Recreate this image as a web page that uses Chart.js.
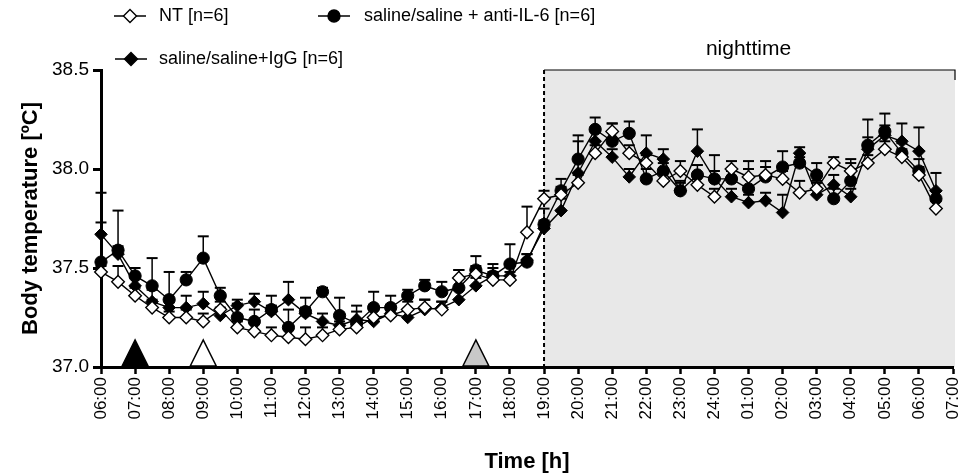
<!DOCTYPE html>
<html><head><meta charset="utf-8">
<script src="https://cdn.jsdelivr.net/npm/chart.js@4.4.1/dist/chart.umd.min.js"></script>
<style>html,body{margin:0;padding:0;background:#fff;}</style>
</head><body>
<canvas id="c" width="967" height="475" style="display:block"></canvas>
<script>
// ---- data ----
const hourLabels = ['06:00','07:00','08:00','09:00','10:00','11:00','12:00','13:00','14:00','15:00','16:00','17:00','18:00','19:00','20:00','21:00','22:00','23:00','24:00','01:00','02:00','03:00','04:00','05:00','06:00','07:00'];
const yTickLabels = ['37.0','37.5','38.0','38.5'];
// one value every 30 min from 06:00 to 06:30 next day
const ntTemp = [37.48,37.43,37.36,37.30,37.25,37.25,37.23,37.29,37.20,37.18,37.16,37.15,37.14,37.16,37.19,37.20,37.25,37.26,37.29,37.30,37.29,37.45,37.47,37.44,37.44,37.68,37.85,37.87,37.93,38.08,38.19,38.08,38.03,37.94,37.99,37.92,37.86,38.00,37.96,37.97,37.95,37.88,37.90,38.03,37.99,38.03,38.10,38.06,37.97,37.80];
const ntErr = [0.03,0.08,0.04,0.04,0.03,0.04,0.04,0.04,0.03,0.04,0.04,0.05,0.06,0.04,0.04,0.04,0.04,0.04,0.04,0.04,0.04,0.04,0.04,0.04,0.04,0.13,0.04,0.04,0.04,0.04,0.04,0.04,0.04,0.04,0.05,0.04,0.04,0.04,0.04,0.04,0.04,0.06,0.04,0.03,0.04,0.04,0.04,0.04,0.04,0.04];
const il6Temp = [37.53,37.59,37.46,37.41,37.34,37.44,37.55,37.36,37.25,37.23,37.29,37.20,37.28,37.38,37.26,37.22,37.30,37.30,37.36,37.41,37.38,37.40,37.49,37.46,37.52,37.53,37.72,37.89,38.05,38.20,38.14,38.18,37.95,37.99,37.89,37.97,37.95,37.95,37.90,37.96,38.01,38.03,37.97,37.85,37.94,38.12,38.19,38.08,37.99,37.85];
const il6Err = [0.20,0.20,0.04,0.14,0.14,0.04,0.11,0.04,0.07,0.06,0.07,0.09,0.07,0.02,0.09,0.09,0.08,0.06,0.03,0.03,0.05,0.09,0.07,0.06,0.10,0.04,0.08,0.06,0.12,0.06,0.09,0.06,0.05,0.04,0.05,0.05,0.12,0.04,0.14,0.08,0.08,0.03,0.06,0.05,0.11,0.13,0.09,0.05,0.06,0.04];
const iggTemp = [37.67,37.57,37.41,37.33,37.30,37.30,37.32,37.26,37.31,37.33,37.28,37.34,37.27,37.23,37.21,37.24,37.23,37.27,37.25,37.29,37.30,37.34,37.41,37.46,37.46,37.54,37.70,37.79,37.98,38.14,38.06,37.96,38.08,38.05,37.89,38.09,37.95,37.86,37.83,37.84,37.78,38.08,37.87,37.92,37.86,38.10,38.17,38.14,38.09,37.89];
const iggErr = [0.21,0.04,0.04,0.06,0.04,0.06,0.06,0.04,0.03,0.04,0.03,0.09,0.03,0.04,0.04,0.04,0.06,0.04,0.04,0.05,0.03,0.05,0.04,0.04,0.05,0.03,0.04,0.06,0.16,0.05,0.04,0.04,0.09,0.05,0.04,0.11,0.04,0.04,0.04,0.04,0.09,0.03,0.06,0.05,0.04,0.06,0.05,0.09,0.12,0.09];
// event markers (half-hour index) and their fill
const eventIndex = [2, 6, 22];
const eventFill = ['#000000', '#ffffff', '#c8c8c8'];
const nightStartIndex = 26; // 19:00
const nightEndIndex = 50;   // 07:00

const FONT = "'Liberation Sans', Arial, sans-serif";
const pts = arr => arr.map((v, i) => ({x: i, y: v}));

const datasets = [
  {label:'NT [n=6]', data: pts(ntTemp), err: ntErr, shape:'diamond', fill:'#ffffff',
   pointStyle:'rectRot', pointRadius:6.3, pointBackgroundColor:'#fff', pointBorderColor:'#000', pointBorderWidth:1.4},
  {label:'saline/saline+IgG [n=6]', data: pts(iggTemp), err: iggErr, shape:'diamond', fill:'#000000',
   pointStyle:'rectRot', pointRadius:6.3, pointBackgroundColor:'#000', pointBorderColor:'#000', pointBorderWidth:1},
  {label:'saline/saline + anti-IL-6 [n=6]', data: pts(il6Temp), err: il6Err, shape:'circle', fill:'#000000',
   pointStyle:'circle', pointRadius:6.1, pointBackgroundColor:'#000', pointBorderColor:'#000', pointBorderWidth:1}
];
datasets.forEach(d => Object.assign(d, {borderColor:'#000', borderWidth:1.4, tension:0, clip:false, showLine:true, pointHoverRadius: d.pointRadius}));

function marker(ctx, shape, fill, x, y, r) {
  ctx.save();
  ctx.beginPath();
  if (shape === 'circle') ctx.arc(x, y, r, 0, Math.PI*2);
  else { ctx.moveTo(x, y-r); ctx.lineTo(x+r, y); ctx.lineTo(x, y+r); ctx.lineTo(x-r, y); ctx.closePath(); }
  ctx.fillStyle = fill; ctx.fill();
  ctx.strokeStyle = '#000'; ctx.lineWidth = 1.4; ctx.stroke();
  ctx.restore();
}

const decorPlugin = {
  id: 'decor',
  beforeDraw(chart) {
    const {ctx, scales:{x, y}} = chart;
    ctx.save();
    ctx.fillStyle = '#fff'; ctx.fillRect(0, 0, chart.width, chart.height);
    const x0 = x.getPixelForValue(nightStartIndex), x1 = x.getPixelForValue(nightEndIndex);
    const yt = y.getPixelForValue(38.5), yb = y.getPixelForValue(37.0);
    ctx.fillStyle = '#e8e8e8';
    ctx.fillRect(x0, yt, x1 - x0 + 2, yb - yt);
    ctx.strokeStyle = '#000';
    ctx.lineWidth = 1.2;
    ctx.beginPath(); ctx.moveTo(x0, yt); ctx.lineTo(x1 + 2, yt); ctx.lineTo(x1 + 2, yt + 10); ctx.stroke();
    ctx.lineWidth = 2; ctx.setLineDash([4, 3]);
    ctx.beginPath(); ctx.moveTo(x0, yt); ctx.lineTo(x0, yb); ctx.stroke();
    ctx.setLineDash([]);
    ctx.fillStyle = '#000'; ctx.font = '21px ' + FONT; ctx.textAlign = 'center'; ctx.textBaseline = 'middle';
    ctx.fillText('nighttime', (x0 + x1) / 2, yt - 21);
    ctx.restore();
  },
  beforeDatasetsDraw(chart) {
    const {ctx, scales:{x, y}} = chart;
    ctx.save();
    ctx.strokeStyle = '#000';
    chart.data.datasets.forEach(ds => {
      ds.data.forEach((p, i) => {
        const px = x.getPixelForValue(p.x);
        const py = y.getPixelForValue(p.y);
        const pt = y.getPixelForValue(p.y + ds.err[i]);
        ctx.lineWidth = 1.5;
        ctx.beginPath(); ctx.moveTo(px, py); ctx.lineTo(px, pt); ctx.stroke();
        ctx.lineWidth = 2;
        ctx.beginPath(); ctx.moveTo(px - 5.5, pt); ctx.lineTo(px + 5.5, pt); ctx.stroke();
      });
    });
    ctx.restore();
  },
  afterDraw(chart) {
    const {ctx, scales:{x, y}} = chart;
    ctx.save();
    // event triangles on the x axis
    const yb = y.getPixelForValue(37.0);
    eventIndex.forEach((ei, k) => {
      const px = x.getPixelForValue(ei);
      ctx.beginPath();
      ctx.moveTo(px - 13, yb - 1); ctx.lineTo(px, yb - 27); ctx.lineTo(px + 13, yb - 1); ctx.closePath();
      ctx.fillStyle = eventFill[k]; ctx.fill();
      ctx.strokeStyle = '#000'; ctx.lineWidth = 1.5; ctx.stroke();
    });
    // legend
    const items = [
      {ds: chart.data.datasets[0], cx: 130, cy: 16, tx: 159},
      {ds: chart.data.datasets[2], cx: 334, cy: 16, tx: 364},
      {ds: chart.data.datasets[1], cx: 131, cy: 59, tx: 159}
    ];
    ctx.font = '18px ' + FONT; ctx.textBaseline = 'middle'; ctx.textAlign = 'left';
    items.forEach(it => {
      ctx.strokeStyle = '#000'; ctx.lineWidth = 1.5;
      ctx.beginPath(); ctx.moveTo(it.cx - 16, it.cy); ctx.lineTo(it.cx + 16, it.cy); ctx.stroke();
      marker(ctx, it.ds.shape, it.ds.fill, it.cx, it.cy, it.ds.shape === 'circle' ? 6 : 6.5);
      ctx.fillStyle = '#000';
      ctx.fillText(it.ds.label, it.tx, it.cy);
    });
    ctx.restore();
  }
};

new Chart(document.getElementById('c'), {
  type: 'scatter',
  data: { datasets },
  plugins: [decorPlugin],
  options: {
    responsive: false,
    animation: false,
    devicePixelRatio: 1,
    layout: { padding: { top: 70, right: 14, left: 0, bottom: 0 } },
    plugins: { legend: { display: false }, tooltip: { enabled: false } },
    scales: {
      x: {
        type: 'linear', min: 0, max: 50,
        afterFit(s) { s.height = 108; s.paddingLeft = 0; s.paddingRight = 0; },
        ticks: { stepSize: 2, autoSkip: false, maxRotation: 90, minRotation: 90, padding: 3, color: '#000',
                 font: { size: 17, family: FONT }, callback: v => hourLabels[v / 2] },
        grid: { drawOnChartArea: false, tickLength: 7, tickWidth: 2.5, color: '#000' },
        border: { width: 3, color: '#000' },
        title: { display: true, text: 'Time [h]', color: '#000', font: { size: 22, weight: 'bold', family: FONT }, padding: 0 }
      },
      y: {
        min: 37.0, max: 38.5,
        afterFit(s) { s.width = 101; s.paddingTop = 0; s.paddingBottom = 0; },
        ticks: { stepSize: 0.5, padding: 4, color: '#000', font: { size: 19, family: FONT },
                 callback: v => yTickLabels[Math.round((v - 37.0) / 0.5)] },
        grid: { drawOnChartArea: false, tickLength: 8, tickWidth: 3, color: '#000' },
        border: { width: 3, color: '#000' },
        title: { display: true, text: 'Body temperature [ºC]', color: '#000', font: { size: 22, weight: 'bold', family: FONT }, padding: { top: 18, bottom: 0 } }
      }
    }
  }
});
</script>
</body></html>
